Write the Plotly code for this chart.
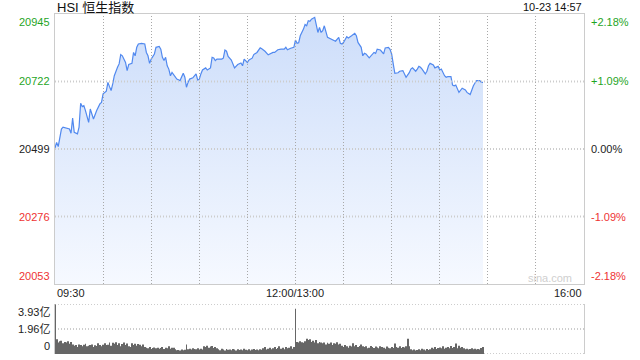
import math
import plotly.graph_objects as go

# ---------------- data ----------------
title_text = "HSI 恒生指数"
stamp_text = "10-23 14:57"
prev_close = 20499
y_ticks = [20945, 20722, 20499, 20276, 20053]
pct_ticks = ["+2.18%", "+1.09%", "0.00%", "-1.09%", "-2.18%"]
vol_ticks = [3.93, 1.96, 0]
vol_tick_labels = ["3.93亿", "1.96亿", "0"]
x_tick_labels = ["09:30", "12:00/13:00", "16:00"]

times = ["09:30", "09:31", "09:32", "09:33", "09:34", "09:35", "09:38", "09:39", "09:40", "09:41",
         "09:42", "09:44", "09:45", "09:46", "09:47", "09:48", "09:49", "09:51", "09:52", "09:54",
         "09:56", "09:57", "09:58", "09:59", "10:00", "10:02", "10:03", "10:04", "10:05", "10:06",
         "10:07", "10:09", "10:10", "10:11", "10:12", "10:14", "10:15", "10:16", "10:17", "10:18",
         "10:19", "10:20", "10:21", "10:22", "10:24", "10:26", "10:27", "10:28", "10:29", "10:30",
         "10:32", "10:33", "10:35", "10:36", "10:37", "10:38", "10:39", "10:40", "10:41", "10:42",
         "10:43", "10:45", "10:46", "10:48", "10:49", "10:50", "10:51", "10:52", "10:53", "10:54",
         "10:56", "10:58", "10:59", "11:00", "11:01", "11:02", "11:04", "11:05", "11:07", "11:08",
         "11:09", "11:10", "11:11", "11:14", "11:15", "11:16", "11:17", "11:18", "11:20", "11:21",
         "11:22", "11:24", "11:26", "11:27", "11:28", "11:30", "11:31", "11:33", "11:34", "11:36",
         "11:38", "11:39", "11:41", "11:43", "11:44", "11:46", "11:47", "11:49", "11:51", "11:53",
         "11:54", "11:55", "11:57", "11:59", "12:00", "13:01", "13:02", "13:03", "13:05", "13:06",
         "13:07", "13:08", "13:09", "13:10", "13:12", "13:13", "13:14", "13:15", "13:16", "13:17",
         "13:18", "13:20", "13:21", "13:23", "13:25", "13:27", "13:28", "13:29", "13:30", "13:32",
         "13:33", "13:35", "13:36", "13:37", "13:38", "13:39", "13:41", "13:42", "13:43", "13:44",
         "13:46", "13:47", "13:49", "13:50", "13:51", "13:53", "13:54", "13:55", "13:56", "13:58",
         "13:59", "14:00", "14:01", "14:02", "14:04", "14:05", "14:07", "14:08", "14:09", "14:11",
         "14:12", "14:13", "14:15", "14:16", "14:17", "14:18", "14:19", "14:21", "14:22", "14:23",
         "14:24", "14:26", "14:27", "14:29", "14:30", "14:31", "14:33", "14:34", "14:35", "14:37",
         "14:38", "14:39", "14:40", "14:42", "14:43", "14:44", "14:46", "14:47", "14:49", "14:50",
         "14:51", "14:52", "14:53", "14:55", "14:56", "14:57"]

prices = [20502, 20521, 20507, 20532, 20565, 20571, 20568, 20565, 20551, 20601,
          20554, 20549, 20571, 20650, 20639, 20642, 20626, 20587, 20631, 20598,
          20626, 20639, 20648, 20653, 20681, 20690, 20719, 20705, 20692, 20714,
          20741, 20769, 20780, 20811, 20807, 20785, 20758, 20778, 20780, 20782,
          20818, 20807, 20835, 20846, 20848, 20846, 20818, 20807, 20782, 20796,
          20813, 20835, 20838, 20829, 20802, 20791, 20802, 20774, 20763, 20741,
          20752, 20738, 20730, 20725, 20736, 20749, 20736, 20703, 20719, 20730,
          20734, 20747, 20727, 20729, 20747, 20760, 20767, 20760, 20767, 20802,
          20800, 20791, 20796, 20796, 20799, 20826, 20822, 20805, 20793, 20782,
          20767, 20778, 20783, 20774, 20796, 20785, 20793, 20799, 20811, 20818,
          20833, 20830, 20822, 20810, 20813, 20818, 20818, 20827, 20829, 20829,
          20835, 20827, 20832, 20835, 20859, 20848, 20850, 20873, 20895, 20910,
          20906, 20923, 20921, 20928, 20934, 20912, 20884, 20901, 20884, 20890,
          20906, 20868, 20865, 20860, 20855, 20868, 20848, 20846, 20851, 20870,
          20866, 20873, 20877, 20881, 20873, 20851, 20835, 20807, 20815, 20813,
          20800, 20807, 20818, 20815, 20829, 20826, 20821, 20813, 20833, 20835,
          20828, 20813, 20780, 20749, 20751, 20756, 20758, 20747, 20736, 20751,
          20763, 20767, 20756, 20763, 20772, 20769, 20763, 20747, 20756, 20774,
          20782, 20777, 20767, 20772, 20760, 20763, 20741, 20736, 20738, 20738,
          20710, 20708, 20710, 20686, 20694, 20700, 20694, 20686, 20679, 20697,
          20708, 20717, 20725, 20725, 20719, 20719]

# per-minute volume (亿), starting 09:30
volume = [3.9,
          1.15, 0.9, 1.0, 1.05, 0.85, 0.95, 0.9, 1.0, 0.8, 0.95, 0.75,
          0.65, 0.7, 0.55, 0.75, 0.7, 0.6, 0.72, 0.8, 0.6, 0.65, 0.7, 0.75, 0.55, 0.68, 0.62, 0.85, 0.7, 0.6, 0.72,
          0.85, 0.7, 0.72, 0.9, 0.65, 0.88, 0.8, 0.92, 0.7, 0.85, 0.6, 0.78, 0.9, 0.7, 0.82, 0.6,
          0.55, 0.85, 0.7, 0.8, 0.65, 0.78, 0.72, 0.6, 0.75, 0.55,
          0.5, 0.45, 0.55, 0.4, 0.48, 0.52, 0.45, 0.5, 0.42, 0.48, 0.55, 0.4, 0.5, 0.45, 0.6, 0.42, 0.5,
          0.5, 0.38, 0.3, 0.32, 0.28, 0.35, 0.3, 0.33,
          0.75,
          0.38, 0.42, 0.35, 0.45, 0.4, 0.38, 0.45, 0.36, 0.42, 0.35,
          0.6, 0.55, 0.65, 0.5, 0.58, 0.62, 0.48, 0.55, 0.45,
          0.38, 0.3, 0.42, 0.35, 0.28, 0.4, 0.33, 0.36, 0.3, 0.4, 0.35, 0.28, 0.38, 0.32, 0.36, 0.3, 0.42,
          0.34, 0.3, 0.38, 0.28, 0.35, 0.4, 0.32, 0.36, 0.3, 0.38, 0.33, 0.45,
          0.55, 0.35, 0.42, 0.5, 0.38, 0.45, 0.55, 0.4, 0.48, 0.6, 0.42, 0.5, 0.38, 0.55, 0.45, 0.5, 0.6, 0.42, 0.55,
          3.55,
          0.95, 0.9, 1.0, 0.92, 0.88, 1.0, 1.2, 1.1, 1.15, 0.95,
          1.05, 0.9, 1.1, 0.85, 0.95, 0.9,
          0.85, 0.9, 0.75, 0.88, 0.8, 0.9, 0.7, 0.85, 0.8, 0.92, 0.75, 0.8,
          0.65, 0.55, 0.7, 0.6, 0.5, 0.65, 0.58, 0.85, 0.6, 0.7, 0.55, 0.62, 0.75, 0.6,
          0.55, 0.6, 0.45, 0.5, 0.62, 0.55, 0.48, 0.58, 0.52, 0.45, 0.6, 0.55, 0.5, 0.42, 0.58, 0.5, 0.45, 0.55, 0.48,
          0.82, 0.55, 0.5, 0.6, 0.48, 0.55, 0.52, 0.6,
          1.2,
          0.6, 0.38, 0.3, 0.35, 0.28, 0.32, 0.38, 0.3, 0.42, 0.35, 0.28, 0.4, 0.32, 0.38,
          0.5, 0.42, 0.55, 0.4, 0.48, 0.52, 0.45, 0.6, 0.42, 0.5, 0.55, 0.45, 0.62, 0.48, 0.55,
          0.82,
          0.45, 0.65, 0.5, 0.55,
          0.45, 0.38, 0.42, 0.35, 0.4, 0.45, 0.38, 0.42, 0.36, 0.4, 0.35, 0.48, 0.55]

# ---------------- axis categories (trading minutes) ----------------
def _mins(a, b):
    return [f"{t // 60:02d}:{t % 60:02d}" for t in range(a, b + 1)]

cats = _mins(9 * 60 + 30, 12 * 60) + _mins(13 * 60 + 1, 16 * 60)
n_last = len(cats) - 1
grid_idx = list(range(30, n_last, 30))

W, H = 640, 360
GREEN = "#1fa51f"
RED = "#ee3333"
BLACK = "#222222"
GRID = "#a8a8a8"
HGRID = "#cdcdcd"
DOT = "1px,2px"
FONT = "Arial, Liberation Sans, Noto Sans CJK SC, sans-serif"

L_PX, R_PX = 55, 584
MT_PX, MB_PX = 14, 284
VT_PX, VB_PX = 304, 354

fig = go.Figure()

fig.add_trace(go.Scatter(
    x=times, y=prices, mode="lines",
    line=dict(color="#5189ef", width=1.2),
    fill="tozeroy",
    fillgradient=dict(type="vertical", start=y_ticks[-1], stop=y_ticks[0],
                      colorscale=[[0, "rgba(246,249,255,1)"], [1, "rgba(204,221,250,1)"]]),
    hoverinfo="skip", xaxis="x", yaxis="y",
))

fig.add_trace(go.Bar(
    x=cats[:len(volume)], y=volume, marker=dict(color="#666666", line=dict(width=0)),
    width=0.55, hoverinfo="skip", xaxis="x2", yaxis="y2",
))

x0, x1 = L_PX / W, R_PX / W
main_dom = [1 - MB_PX / H, 1 - MT_PX / H]
vol_dom = [1 - VB_PX / H, 1 - VT_PX / H]

fig.update_layout(
    width=W, height=H, margin=dict(l=0, r=0, t=0, b=0),
    paper_bgcolor="white", plot_bgcolor="rgba(0,0,0,0)",
    showlegend=False, font=dict(family=FONT, size=11, color=BLACK),
    xaxis=dict(type="category", categoryorder="array", categoryarray=cats,
               range=[0, n_last], domain=[x0, x1],
               showticklabels=False, ticks="", showgrid=False,
               showline=True, mirror=True, linecolor="#cccccc", linewidth=1,
               zeroline=False),
    yaxis=dict(range=[y_ticks[-1], y_ticks[0]], domain=main_dom,
               showticklabels=False, ticks="", showgrid=False,
               showline=True, mirror=True, linecolor="#cccccc", linewidth=1,
               zeroline=False),
    xaxis2=dict(type="category", categoryorder="array", categoryarray=cats,
                range=[0, n_last], domain=[x0, x1], anchor="y2",
                showticklabels=False, ticks="", showgrid=False,
                showline=False, zeroline=False),
    yaxis2=dict(range=[0, vol_ticks[0]], domain=vol_dom, anchor="x2",
                showticklabels=False, ticks="", showgrid=False,
                showline=True, mirror=True, linecolor="#cccccc", linewidth=1,
                zeroline=False),
)

def _px_center(p):
    return math.floor(p) + 0.5

shapes = []
for v in y_ticks[1:-1]:
    shapes.append(dict(type="line", xref="x domain", yref="y", x0=0, x1=1, y0=v, y1=v,
                       line=dict(color=HGRID, width=2, dash=DOT), layer="above"))
for i in grid_idx:
    xpx = _px_center(L_PX + i / n_last * (R_PX - L_PX))
    shapes.append(dict(type="line", xref="paper", yref="paper", x0=xpx / W, x1=xpx / W,
                       y0=main_dom[0], y1=main_dom[1],
                       line=dict(color=GRID, width=1, dash=DOT), layer="above"))
for v in vol_ticks:
    shapes.append(dict(type="line", xref="x2 domain", yref="y2", x0=0, x1=1, y0=v, y1=v,
                       line=dict(color=HGRID, width=2, dash=DOT), layer="below"))
fig.update_layout(shapes=shapes)

ann = []
ann.append(dict(text=title_text, x=x0, y=1 - 7 / H, xref="paper", yref="paper",
                xanchor="left", yanchor="middle", showarrow=False,
                font=dict(size=13, color="#111111", family="Arial, Noto Sans CJK SC, sans-serif")))
ann.append(dict(text=stamp_text, x=x1, y=1 - 7 / H, xref="paper", yref="paper",
                xanchor="right", yanchor="middle", showarrow=False,
                font=dict(size=11, color="#111111")))

colors = [GREEN, GREEN, BLACK, RED, RED]
for i, (v, p, c) in enumerate(zip(y_ticks, pct_ticks, colors)):
    if i == 0:
        ya = "top"
    elif i == len(y_ticks) - 1:
        ya = "bottom"
    else:
        ya = "middle"
    ann.append(dict(text=str(v), x=x0, xshift=-3, y=v, xref="paper", yref="y",
                    xanchor="right", yanchor=ya, showarrow=False,
                    font=dict(size=11, color=c)))
    ann.append(dict(text=p, x=x1, xshift=5, y=v, xref="paper", yref="y",
                    xanchor="left", yanchor=ya, showarrow=False,
                    font=dict(size=11, color=c)))

tick_pos = [0, cats.index("12:00"), n_last]
anchors = ["left", "center", "right"]
for lab, pos, a in zip(x_tick_labels, tick_pos, anchors):
    ann.append(dict(text=lab, x=cats[pos], y=1 - 293 / H, xref="x", yref="paper",
                    yanchor="middle", xanchor=a, showarrow=False,
                    font=dict(size=11, color=BLACK)))

for i, (v, lab) in enumerate(zip(vol_ticks, vol_tick_labels)):
    ya = "top" if i == 0 else ("bottom" if i == len(vol_ticks) - 1 else "middle")
    ann.append(dict(text=lab, x=x0, xshift=-3, y=v, xref="paper", yref="y2",
                    xanchor="right", yanchor=ya, showarrow=False,
                    font=dict(size=11, color=BLACK)))

ann.append(dict(text="sina.com", x=x1, xshift=-10, y=1 - 278 / H, xref="paper", yref="paper",
                xanchor="right", yanchor="middle", showarrow=False,
                font=dict(size=11, color="#cfcfcf")))

fig.update_layout(annotations=ann)
fig.write_html("out.html")
